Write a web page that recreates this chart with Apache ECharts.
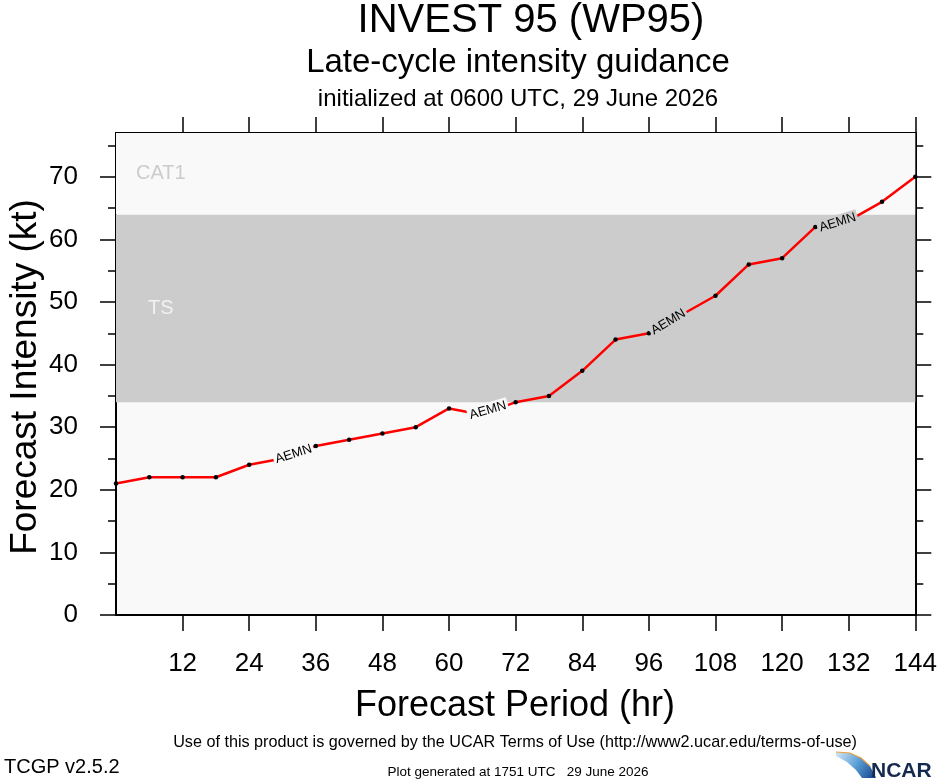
<!DOCTYPE html>
<html><head><meta charset="utf-8">
<script src="https://cdn.jsdelivr.net/npm/echarts@6/dist/echarts.min.js"></script>
<style>html,body{margin:0;padding:0;background:#fff}#c{width:940px;height:780px}</style>
</head><body><div id="c"></div>
<script>
// ---- data ----
const hours = [0,6,12,18,24,30,36,42,48,54,60,66,72,78,84,90,96,102,108,114,120,126,132,138,144];
const aemn  = [21,22,22,22,24,25,27,28,29,30,33,32,34,35,39,44,45,48,51,56,57,62,63,66,70];
const xTicks = [12,24,36,48,60,72,84,96,108,120,132,144];
const yMajor = [0,10,20,30,40,50,60,70];
const yMinor = [5,15,25,35,45,55,65,75];
const bandNames = ['TS','CAT1'];
const bandFrom  = [34,64];
const bandTo    = [64,77];
const labelHours = [32,67,99.5,130];
const labelKt    = [25.7,32.7,46.8,62.7];
const labelText  = 'AEMN';

// ---- style ----
const FF = '"Liberation Sans", Arial, Helvetica, sans-serif';
const labelRot = [18,16,31,17];
const bgLight = '#f9f9f9', bgBand = '#cccccc';

const chart = echarts.init(document.getElementById('c'), null, {renderer:'canvas'});

function tickAxis(extra){
  return Object.assign({
    type:'value', splitLine:{show:false},
    axisLine:{show:true, onZero:false, lineStyle:{color:'#000', width:2}},
  }, extra);
}

const xAxes = [
  tickAxis({position:'bottom', min:0, max:144, interval:12,
    axisTick:{show:true, inside:false, length:16, customValues:xTicks, lineStyle:{color:'#000', width:1.5}},
    axisLabel:{show:true, customValues:xTicks, fontSize:26, margin:36, color:'#000', fontFamily:FF}}),
  tickAxis({position:'top', min:0, max:144, interval:12,
    axisTick:{show:true, inside:false, length:16, customValues:xTicks, lineStyle:{color:'#000', width:1.5}},
    axisLabel:{show:false}})
];
const yAxes = [
  tickAxis({position:'left', min:0, max:77, interval:10,
    axisTick:{show:true, inside:false, length:16, customValues:yMajor, lineStyle:{color:'#000', width:1.5}},
    axisLabel:{show:true, customValues:yMajor, fontSize:26, margin:38, color:'#000', fontFamily:FF}}),
  tickAxis({position:'left', min:0, max:77, interval:10,
    axisTick:{show:true, inside:false, length:8, customValues:yMinor, lineStyle:{color:'#000', width:1.5}},
    axisLabel:{show:false}}),
  tickAxis({position:'right', min:0, max:77, interval:10,
    axisTick:{show:true, inside:false, length:16, customValues:yMajor, lineStyle:{color:'#000', width:1.5}},
    axisLabel:{show:false}}),
  tickAxis({position:'right', min:0, max:77, interval:10,
    axisTick:{show:true, inside:false, length:8, customValues:yMinor, lineStyle:{color:'#000', width:1.5}},
    axisLabel:{show:false}})
];

const bandColors = ['#cccccc', bgLight];
const bandLabelColors = ['#f2f2f2', '#cccccc'];
const bandDist = [32, 20];
const markData = bandNames.map((n,i)=>[
  {name:n, yAxis:bandFrom[i], itemStyle:{color:bandColors[i], opacity:1},
   label:{show:true, position:'insideLeft', distance:bandDist[i], color:bandLabelColors[i], fontSize:20, fontFamily:FF}},
  {yAxis:bandTo[i]}
]);

function inBand(v){ return v >= bandFrom[0] && v <= bandTo[0]; }

const option = {
  animation:false,
  backgroundColor:'#ffffff',
  grid:{left:116, right:22, top:133, bottom:165, show:true, backgroundColor:bgLight, borderWidth:0, borderColor:'transparent'},
  xAxis:xAxes,
  yAxis:yAxes,
  series:[
    {type:'line', data:[], xAxisIndex:0, yAxisIndex:0, silent:true, z:1,
     markArea:{silent:true, data:markData}},
    {type:'line', name:'AEMN', xAxisIndex:0, yAxisIndex:0, z:3,
     data:hours.map((h,i)=>[h, aemn[i]]),
     symbol:'circle', symbolSize:4.5, showSymbol:true,
     itemStyle:{color:'#000'}, lineStyle:{color:'#ff0000', width:2.5}},
    {type:'scatter', xAxisIndex:0, yAxisIndex:0, z:10, symbolSize:0.1,
     itemStyle:{color:'#000', opacity:0},
     label:{show:true, position:'inside', formatter:labelText, fontSize:13, color:'#000', opacity:1,
            textBorderWidth:0, textBorderColor:'transparent', fontFamily:FF, padding:[1,2]},
     data:labelHours.map((h,i)=>({value:[h, labelKt[i]],
       label:{rotate:labelRot[i], backgroundColor: inBand(labelKt[i]) ? bgBand : bgLight}}))}
  ],
  graphic:[
    {type:'text', x:531, y:21, style:{text:'INVEST 95 (WP95)', fontSize:40, fontFamily:FF, fill:'#000', align:'center', verticalAlign:'middle'}},
    {type:'text', x:518, y:63, style:{text:'Late-cycle intensity guidance', fontSize:33, fontFamily:FF, fill:'#000', align:'center', verticalAlign:'middle'}},
    {type:'text', x:518, y:99, style:{text:'initialized at 0600 UTC, 29 June 2026', fontSize:24, fontFamily:FF, fill:'#000', align:'center', verticalAlign:'middle'}},
    {type:'text', x:515, y:706, style:{text:'Forecast Period (hr)', fontSize:36, fontFamily:FF, fill:'#000', align:'center', verticalAlign:'middle'}},
    {type:'text', x:26, y:377, rotation:Math.PI/2, style:{text:'Forecast Intensity (kt)', fontSize:37, fontFamily:FF, fill:'#000', align:'center', verticalAlign:'middle'}},
    {type:'text', x:515, y:743, style:{text:'Use of this product is governed by the UCAR Terms of Use (http://www2.ucar.edu/terms-of-use)', fontSize:16.2, fontFamily:FF, fill:'#000', align:'center', verticalAlign:'middle'}},
    {type:'text', x:4, y:767, style:{text:'TCGP v2.5.2', fontSize:20, fontFamily:FF, fill:'#000', align:'left', verticalAlign:'middle'}},
    {type:'text', x:518, y:772, style:{text:'Plot generated at 1751 UTC   29 June 2026', fontSize:13.5, fontFamily:FF, fill:'#000', align:'center', verticalAlign:'middle'}},
    {type:'polygon', shape:{points:[[836,752],[850,753],[861,758],[870,766],[876,778],[862,778],[856,770],[847,762],[836,756]]},
     style:{fill:new echarts.graphic.LinearGradient(0,0,1,1,[{offset:0,color:'#d6e8f5'},{offset:0.5,color:'#5a9fd6'},{offset:1,color:'#123f86'}])}},
    {type:'polyline', shape:{points:[[836,752],[850,753],[861,758],[870,766]]}, style:{stroke:'#e8a040', lineWidth:1.2, fill:null}},
    {type:'text', x:871, y:771, style:{text:'NCAR', fontSize:21, fontWeight:'bold', fontFamily:FF, fill:'#16294f', align:'left', verticalAlign:'middle'}}
  ]
};
chart.setOption(option);
</script>
</body></html>
